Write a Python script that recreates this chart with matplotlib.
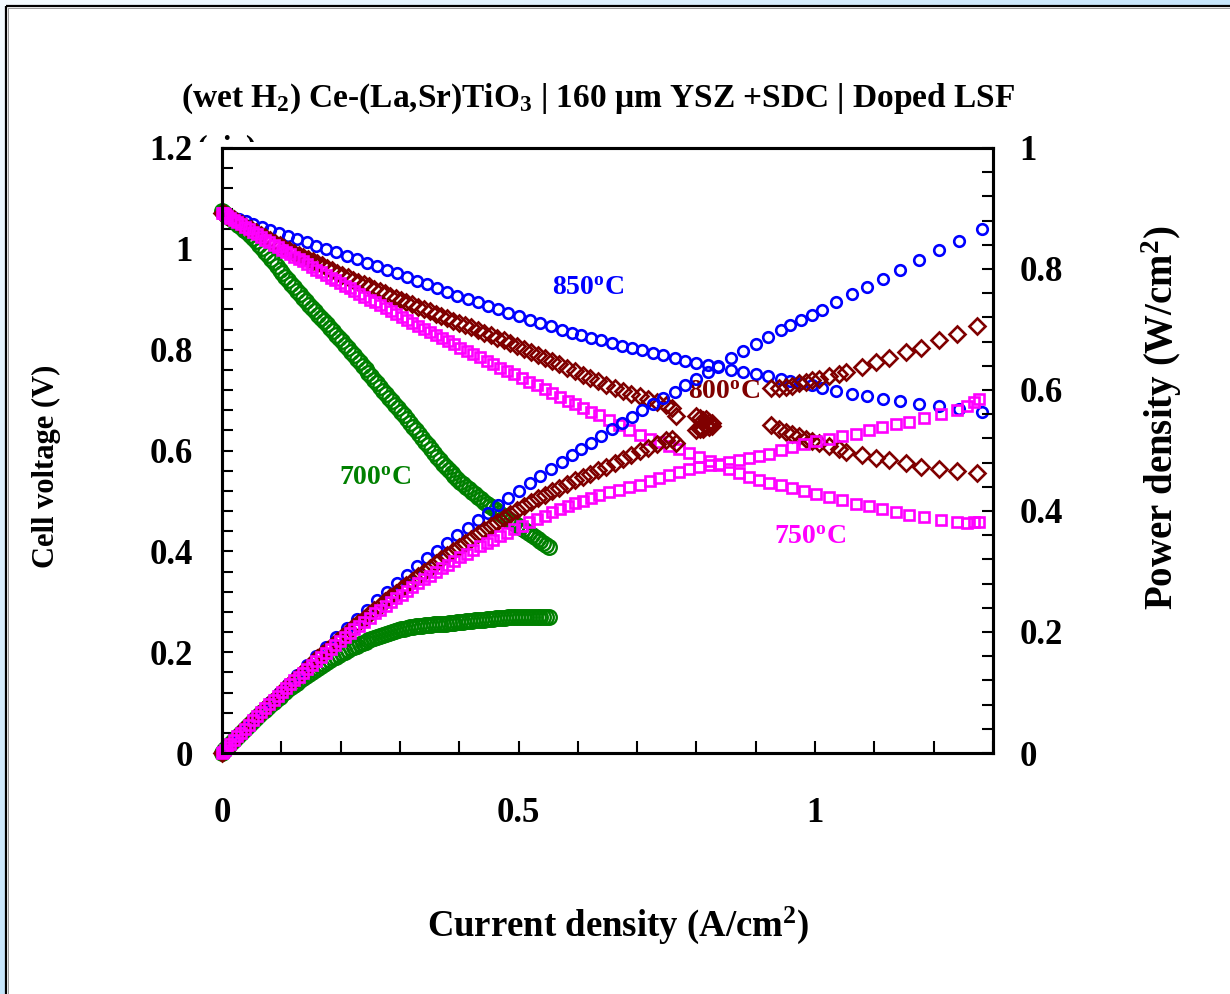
import numpy as np
import matplotlib
matplotlib.use("Agg")
import matplotlib.pyplot as plt
from matplotlib.patches import Rectangle
from matplotlib.transforms import Bbox

plt.rcParams["font.family"] = ["Liberation Serif", "DejaVu Serif"]
plt.rcParams["font.weight"] = "bold"
plt.rcParams["mathtext.fontset"] = "custom"
plt.rcParams["mathtext.rm"] = "Liberation Serif:bold"
plt.rcParams["mathtext.it"] = "Liberation Serif:bold:italic"
plt.rcParams["mathtext.bf"] = "Liberation Serif:bold"
plt.rcParams["mathtext.default"] = "rm"

# ---------------- data: current density (A/cm2) and cell voltage (V) ----------------
current_850 = [0, 0.004, 0.010, 0.018, 0.028, 0.040, 0.053, 0.067, 0.081, 0.096,
               0.111, 0.127, 0.143, 0.159, 0.176, 0.193, 0.210, 0.227, 0.244, 0.261,
               0.278, 0.295, 0.312, 0.329, 0.346, 0.363, 0.380, 0.397, 0.414, 0.431,
               0.448, 0.465, 0.483, 0.501, 0.519, 0.537, 0.555, 0.573, 0.590, 0.606,
               0.622, 0.639, 0.658, 0.675, 0.691, 0.709, 0.726, 0.743, 0.763, 0.781,
               0.799, 0.819, 0.837, 0.858, 0.878, 0.900, 0.920, 0.942, 0.958, 0.976,
               0.994, 1.012, 1.036, 1.063, 1.088, 1.114, 1.144, 1.176, 1.209, 1.242,
               1.282]
voltage_850 = [1.072, 1.070, 1.067, 1.064, 1.060, 1.055, 1.049, 1.043, 1.038, 1.032,
               1.026, 1.019, 1.013, 1.006, 1.000, 0.993, 0.986, 0.979, 0.972, 0.966,
               0.959, 0.952, 0.945, 0.937, 0.930, 0.922, 0.915, 0.907, 0.900, 0.894,
               0.887, 0.880, 0.873, 0.866, 0.859, 0.853, 0.846, 0.840, 0.834, 0.829,
               0.824, 0.819, 0.813, 0.808, 0.803, 0.799, 0.794, 0.789, 0.783, 0.778,
               0.773, 0.769, 0.765, 0.760, 0.756, 0.752, 0.747, 0.742, 0.738, 0.733,
               0.729, 0.724, 0.719, 0.713, 0.708, 0.703, 0.698, 0.693, 0.688, 0.682,
               0.676]

current_800 = [0, 0.002, 0.005, 0.009, 0.014, 0.020, 0.027, 0.034, 0.041, 0.049,
               0.057, 0.065, 0.073, 0.081, 0.089, 0.097, 0.105, 0.113, 0.121, 0.129,
               0.137, 0.145, 0.153, 0.161, 0.169, 0.177, 0.185, 0.194, 0.203, 0.212,
               0.221, 0.230, 0.239, 0.248, 0.257, 0.266, 0.275, 0.284, 0.293, 0.302,
               0.311, 0.320, 0.330, 0.340, 0.350, 0.360, 0.370, 0.380, 0.390, 0.400,
               0.410, 0.420, 0.431, 0.442, 0.453, 0.464, 0.475, 0.486, 0.497, 0.509,
               0.521, 0.533, 0.545, 0.557, 0.569, 0.582, 0.595, 0.608, 0.621, 0.634,
               0.648, 0.662, 0.676, 0.690, 0.704, 0.718, 0.733, 0.748, 0.758, 0.766,
               0.800, 0.806, 0.811, 0.816, 0.821, 0.826,
               0.926, 0.939, 0.951, 0.961, 0.973, 0.985, 0.995, 1.007, 1.024, 1.040,
               1.052, 1.079, 1.103, 1.125, 1.153, 1.178, 1.209, 1.239, 1.273]
voltage_800 = [1.072, 1.071, 1.069, 1.066, 1.063, 1.059, 1.054, 1.049, 1.044, 1.039,
               1.033, 1.028, 1.023, 1.017, 1.012, 1.007, 1.002, 0.997, 0.992, 0.987,
               0.983, 0.979, 0.975, 0.971, 0.967, 0.962, 0.958, 0.953, 0.948, 0.944,
               0.939, 0.935, 0.930, 0.926, 0.921, 0.916, 0.912, 0.907, 0.903, 0.898,
               0.894, 0.890, 0.885, 0.880, 0.876, 0.871, 0.867, 0.862, 0.857, 0.853,
               0.848, 0.844, 0.839, 0.834, 0.829, 0.824, 0.819, 0.813, 0.808, 0.802,
               0.796, 0.790, 0.783, 0.777, 0.771, 0.764, 0.757, 0.750, 0.743, 0.737,
               0.730, 0.724, 0.718, 0.713, 0.708, 0.703, 0.697, 0.691, 0.684, 0.668,
               0.668, 0.664, 0.660, 0.662, 0.657, 0.655,
               0.651, 0.642, 0.636, 0.632, 0.628, 0.623, 0.619, 0.614, 0.608, 0.602,
               0.598, 0.592, 0.586, 0.581, 0.575, 0.568, 0.564, 0.559, 0.555]

current_750 = [0, 0.002, 0.005, 0.009, 0.014, 0.020, 0.026, 0.032, 0.038, 0.045,
               0.052, 0.059, 0.066, 0.073, 0.080, 0.087, 0.094, 0.101, 0.108, 0.115,
               0.122, 0.129, 0.136, 0.143, 0.151, 0.159, 0.167, 0.175, 0.183, 0.191,
               0.199, 0.207, 0.215, 0.223, 0.231, 0.240, 0.249, 0.258, 0.267, 0.276,
               0.285, 0.294, 0.303, 0.312, 0.321, 0.331, 0.341, 0.351, 0.361, 0.371,
               0.381, 0.391, 0.402, 0.413, 0.424, 0.435, 0.446, 0.457, 0.469, 0.481,
               0.493, 0.505, 0.518, 0.531, 0.544, 0.557, 0.570, 0.583, 0.596, 0.609,
               0.622, 0.636, 0.653, 0.670, 0.687, 0.704, 0.721, 0.737, 0.754, 0.771,
               0.788, 0.805, 0.822, 0.838, 0.855, 0.872, 0.889, 0.906, 0.923, 0.943,
               0.961, 0.981, 1.002, 1.024, 1.045, 1.069, 1.091, 1.113, 1.136, 1.158,
               1.184, 1.212, 1.239, 1.256, 1.268, 1.276]
voltage_750 = [1.072, 1.071, 1.069, 1.066, 1.062, 1.058, 1.053, 1.049, 1.044, 1.039,
               1.034, 1.029, 1.023, 1.018, 1.013, 1.008, 1.003, 0.998, 0.994, 0.989,
               0.984, 0.979, 0.975, 0.970, 0.964, 0.959, 0.954, 0.948, 0.943, 0.938,
               0.932, 0.927, 0.922, 0.917, 0.911, 0.905, 0.899, 0.894, 0.888, 0.882,
               0.876, 0.870, 0.864, 0.859, 0.853, 0.847, 0.841, 0.835, 0.829, 0.823,
               0.817, 0.811, 0.804, 0.798, 0.791, 0.785, 0.778, 0.771, 0.764, 0.757,
               0.751, 0.744, 0.736, 0.729, 0.721, 0.714, 0.707, 0.699, 0.692, 0.685,
               0.677, 0.670, 0.660, 0.650, 0.640, 0.630, 0.623, 0.616, 0.609, 0.602,
               0.595, 0.587, 0.579, 0.571, 0.563, 0.556, 0.548, 0.541, 0.536, 0.531,
               0.526, 0.520, 0.514, 0.507, 0.501, 0.494, 0.489, 0.484, 0.478, 0.473,
               0.468, 0.463, 0.458, 0.457, 0.458, 0.459]

current_700 = [0, 0.002, 0.004, 0.007, 0.010, 0.014, 0.018, 0.022, 0.027,
               0.032, 0.037, 0.042, 0.047, 0.052, 0.057, 0.062, 0.067, 0.072, 0.077,
               0.082, 0.087, 0.092, 0.097, 0.102, 0.107, 0.112, 0.117, 0.122, 0.127,
               0.132, 0.137, 0.142, 0.147, 0.152, 0.157, 0.162, 0.167, 0.172, 0.177,
               0.182, 0.187, 0.192, 0.197, 0.202, 0.207, 0.212, 0.217, 0.222, 0.227,
               0.232, 0.237, 0.242, 0.247, 0.252, 0.257, 0.262, 0.267, 0.272, 0.277,
               0.282, 0.287, 0.292, 0.297, 0.302, 0.307, 0.312, 0.317, 0.322, 0.327,
               0.332, 0.337, 0.342, 0.347, 0.352, 0.357, 0.362, 0.367, 0.372, 0.377,
               0.382, 0.387, 0.392, 0.397, 0.402, 0.407, 0.412, 0.417, 0.422, 0.427,
               0.432, 0.437, 0.442, 0.447, 0.452, 0.457, 0.462, 0.467, 0.472, 0.477,
               0.482, 0.487, 0.492, 0.497, 0.502, 0.507, 0.512, 0.517, 0.522, 0.527,
               0.532, 0.537, 0.542, 0.547, 0.551]
voltage_700 = [1.075, 1.073, 1.071, 1.068, 1.065, 1.061, 1.057, 1.053, 1.048,
               1.043, 1.038, 1.033, 1.028, 1.022, 1.015, 1.008, 1.001, 0.994, 0.987,
               0.980, 0.973, 0.966, 0.959, 0.952, 0.945, 0.938, 0.931, 0.924, 0.917,
               0.910, 0.903, 0.896, 0.889, 0.882, 0.876, 0.869, 0.863, 0.856, 0.850,
               0.843, 0.837, 0.830, 0.824, 0.817, 0.810, 0.803, 0.796, 0.789, 0.782,
               0.775, 0.768, 0.761, 0.754, 0.747, 0.740, 0.733, 0.726, 0.719, 0.712,
               0.705, 0.698, 0.691, 0.684, 0.677, 0.670, 0.662, 0.655, 0.647, 0.640,
               0.632, 0.625, 0.617, 0.610, 0.602, 0.595, 0.588, 0.581, 0.574, 0.567,
               0.561, 0.555, 0.549, 0.544, 0.538, 0.533, 0.528, 0.523, 0.518, 0.513,
               0.508, 0.503, 0.498, 0.494, 0.490, 0.486, 0.482, 0.477, 0.473, 0.469,
               0.465, 0.461, 0.457, 0.453, 0.448, 0.444, 0.440, 0.436, 0.432, 0.428,
               0.424, 0.420, 0.416, 0.412, 0.409]

temperature_labels = ["700$^{o}$C", "850$^{o}$C", "800$^{o}$C", "750$^{o}$C"]
x_tick_labels = ["0", "0.5", "1"]
left_tick_labels = ["0", "0.2", "0.4", "0.6", "0.8", "1", "1.2"]
right_tick_labels = ["0", "0.2", "0.4", "0.6", "0.8", "1"]

# ---------------- figure and framed panel ----------------
W, H = 1230, 994
fig = plt.figure(figsize=(W / 100, H / 100), dpi=100)

bg = fig.add_axes([0, 0, 1, 1], zorder=-10)
gx, gy = np.meshgrid(np.linspace(0, 1, 256), np.linspace(0, 1, 256))
t = np.clip(gx + gy, 0, 1)[..., None]
light = np.array([0.960, 0.984, 1.000])
blue = np.array([0.780, 0.902, 0.988])
bg.imshow(light + (blue - light) * t, extent=[0, W, H, 0], aspect="auto")
bg.add_patch(Rectangle((6, 6), W, H, facecolor="white", edgecolor="none"))
bg.plot([6, 6], [6, H], color="black", lw=1.6, solid_capstyle="butt")
bg.plot([6, W], [6, 6], color="black", lw=1.6, solid_capstyle="butt")
bg.plot([8, 8], [8, H], color="#9a9a9a", lw=0.7)
bg.plot([8, W], [8, 8], color="#9a9a9a", lw=0.7)
bg.set_xlim(0, W)
bg.set_ylim(H, 0)
bg.axis("off")

# note tucked behind the plotting frame; only its top edge shows
note = fig.text(197 / W, 1 - 156 / H, "(air)", fontsize=23, zorder=-1)
note.set_clip_box(Bbox.from_extents(150, H - 142, 300, H - 100))

ax = fig.add_axes([222 / W, 241 / H, 771 / W, 605 / H])
ax2 = ax.twinx()

series = [
    (current_700, voltage_700, "o", "#008000", 10.5, 1.7),
    (current_850, voltage_850, "o", "#0000ff", 7.6, 1.9),
    (current_800, voltage_800, "D", "#800000", 7.8, 1.9),
    (current_750, voltage_750, "s", "#ff00ff", 7.5, 1.9),
]
for cur, volt, mk, col, ms, mew in series:
    cur = np.asarray(cur)
    volt = np.asarray(volt)
    ax.plot(cur, volt, ls="none", marker=mk, ms=ms, mfc="none", mec=col,
            mew=mew, clip_on=False)
    ax2.plot(cur, cur * volt, ls="none", marker=mk, ms=ms, mfc="none", mec=col,
             mew=mew, clip_on=False)

ax.set_xlim(0, 1.3)
ax.set_ylim(0, 1.2)
ax2.set_ylim(0, 1.0)

ax.set_xticks([0, 0.5, 1.0])
ax.set_xticklabels(x_tick_labels)
ax.set_xticks(np.arange(0, 1.31, 0.1), minor=True)
ax.set_yticks(np.arange(0, 1.21, 0.2))
ax.set_yticklabels(left_tick_labels)
ax.set_yticks(np.arange(0, 1.21, 0.04), minor=True)
ax2.set_yticks(np.arange(0, 1.01, 0.2))
ax2.set_yticklabels(right_tick_labels)
ax2.set_yticks(np.arange(0, 1.01, 0.04), minor=True)

for a in (ax, ax2):
    for s in a.spines.values():
        s.set_linewidth(2.2)
ax.tick_params(axis="x", which="both", direction="in", top=False, bottom=True,
               width=1.5, length=8.5, pad=32, labelsize=25)
ax.tick_params(axis="y", which="both", direction="in", left=True, right=False,
               width=1.5, length=8, pad=21, labelsize=25)
ax2.tick_params(axis="y", which="both", direction="in", left=False, right=True,
                width=1.5, length=8, pad=19, labelsize=25)
for lab in ax.get_xticklabels() + ax.get_yticklabels() + ax2.get_yticklabels():
    lab.set_fontweight("bold")

# temperature annotations
ax.text(0.198, 0.545, temperature_labels[0], color="#008000", fontsize=20,
        va="center", ha="left")
ax.text(0.557, 0.922, temperature_labels[1], color="#0000ff", fontsize=20,
        va="center", ha="left")
ax.text(0.785, 0.716, temperature_labels[2], color="#800000", fontsize=20,
        va="center", ha="left")
ax.text(0.931, 0.428, temperature_labels[3], color="#ff00ff", fontsize=20,
        va="center", ha="left")

# title and axis labels
fig.text(598 / W, 1 - 107 / H,
         "(wet H$_2$) Ce-(La,Sr)TiO$_3$ | 160 \u03bcm YSZ +SDC | Doped LSF",
         fontsize=24, ha="center", va="baseline")
fig.text(618 / W, 1 - 936 / H, "Current density (A/cm$^2$)", fontsize=26.5,
         ha="center", va="baseline")
fig.text(46 / W, 1 - 466 / H, "Cell voltage (V)", fontsize=22, rotation=90,
         ha="center", va="center")
fig.text(1162 / W, 1 - 418 / H, "Power density (W/cm$^2$)", fontsize=28,
         rotation=90, ha="center", va="center")

fig.savefig("out.png", dpi=100)
